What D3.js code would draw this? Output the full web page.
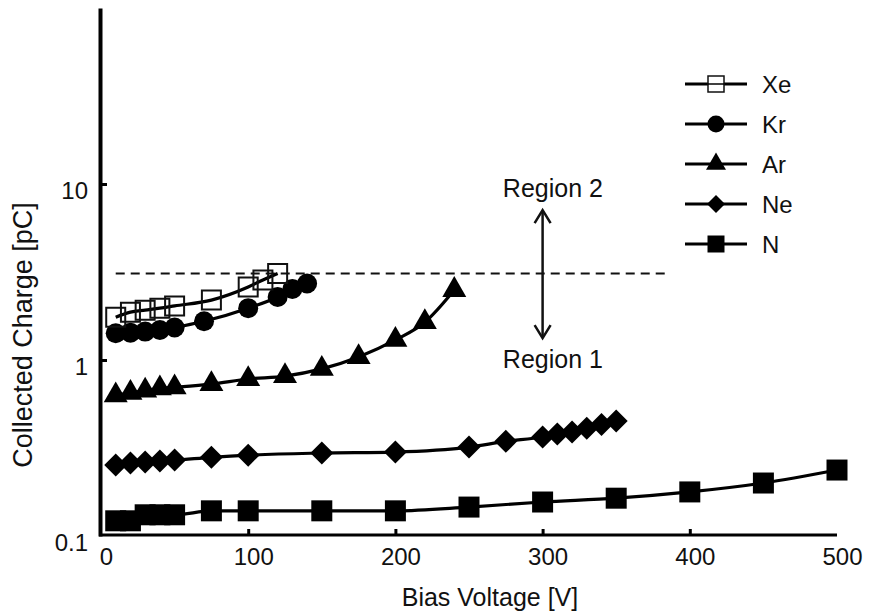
<!DOCTYPE html>
<html>
<head>
<meta charset="utf-8">
<script src="https://cdn.jsdelivr.net/npm/d3@7"></script>
<style>
  body { margin: 0; background: #fff; }
  text { font-family: "Liberation Sans", Arial, sans-serif; fill: #111; }
</style>
</head>
<body>
<div id="chart"></div>
<script>
// data (bias voltage [V], collected charge [pC])
let xeV = [10, 20, 30, 40, 50, 75, 100, 110, 120];
let xeQ = [1.75, 1.87, 1.92, 1.97, 2.03, 2.19, 2.6, 2.85, 3.1];
let krV = [10, 20, 30, 40, 50, 70, 100, 120, 130, 140];
let krQ = [1.42, 1.43, 1.45, 1.48, 1.53, 1.66, 1.97, 2.28, 2.53, 2.72];
let arV = [10, 20, 30, 40, 50, 75, 100, 125, 150, 175, 200, 220, 240];
let arQ = [0.63, 0.65, 0.67, 0.69, 0.70, 0.73, 0.78, 0.81, 0.89, 1.04, 1.30, 1.64, 2.5];
let neV = [10, 20, 30, 40, 50, 75, 100, 150, 200, 250, 275, 300, 310, 320, 330, 340, 350];
let neQ = [0.253, 0.26, 0.263, 0.267, 0.27, 0.28, 0.288, 0.296, 0.30, 0.32, 0.345, 0.365, 0.38, 0.39, 0.41, 0.43, 0.45];
let nV = [10, 20, 30, 40, 50, 75, 100, 150, 200, 250, 300, 350, 400, 450, 500];
let nQ = [0.122, 0.122, 0.132, 0.132, 0.132, 0.139, 0.139, 0.139, 0.139, 0.146, 0.156, 0.164, 0.178, 0.20, 0.237];

let gasNames = ["Xe", "Kr", "Ar", "Ne", "N"];
let xTicks = [0, 100, 200, 300, 400, 500];
let yTicks = [0.1, 1, 10];

// region boundary + arrow
let thresholdQ = 3.1;
let thresholdSpan = [10, 385];
let arrowV = 300;
let arrowQ = [7.1, 1.33];

let width = 869, height = 615;
let fontSize = 24;

let svg = d3.select("#chart")
    .append("svg")
    .attr("width", width)
    .attr("height", height);

let x = d3.scaleLinear().domain([0, 500]).range([101, 837]);
let y = d3.scaleLog().domain([0.1, 100]).range([536, 8]);

// x axis, ticks pointing inward
let xAxis = svg.append("g")
    .attr("transform", "translate(0, 535)")
    .call(d3.axisBottom(x).tickValues(xTicks).tickSizeInner(-6).tickSizeOuter(0).tickPadding(13));
xAxis.select(".domain").attr("stroke", "#000").attr("stroke-width", 3).attr("d", "M99,0H837");
xAxis.selectAll(".tick line").attr("stroke", "#000").attr("stroke-width", 3)
    .filter(d => d === 0 || d === 500).remove();
xAxis.selectAll(".tick text").attr("font-size", fontSize).attr("font-family", null).attr("dx", 5);

// y axis (log)
let yAxis = svg.append("g")
    .attr("transform", "translate(100, 0)")
    .call(d3.axisLeft(y).tickValues(yTicks).tickFormat(d3.format("")).tickSizeInner(-7).tickSizeOuter(0).tickPadding(12));
yAxis.select(".domain").attr("stroke", "#000").attr("stroke-width", 4);
yAxis.selectAll(".tick line").attr("stroke", "#000").attr("stroke-width", 3)
    .filter(d => d === 0.1).remove();
yAxis.selectAll(".tick text").attr("font-size", fontSize).attr("font-family", null).attr("dy", "0.6em");

// axis titles
svg.append("text")
    .attr("x", 490)
    .attr("y", 606)
    .attr("text-anchor", "middle")
    .attr("font-size", 25)
    .text("Bias Voltage [V]");

svg.append("text")
    .attr("transform", "translate(23, 335) rotate(-90)")
    .attr("text-anchor", "middle")
    .attr("dy", "0.35em")
    .attr("font-size", 27)
    .text("Collected Charge [pC]");

// dashed boundary between the two regions
svg.append("line")
    .attr("x1", x(thresholdSpan[0])).attr("x2", x(thresholdSpan[1]))
    .attr("y1", y(thresholdQ)).attr("y2", y(thresholdQ))
    .attr("stroke", "#111").attr("stroke-width", 2)
    .attr("stroke-dasharray", "9,6");

// double arrow
let arrowHead = (x0, y0, dir) => `M${x0 - 8},${y0 + dir * 13}L${x0},${y0}L${x0 + 8},${y0 + dir * 13}`;
svg.append("line")
    .attr("x1", x(arrowV)).attr("x2", x(arrowV))
    .attr("y1", y(arrowQ[0]) + 1).attr("y2", y(arrowQ[1]) - 1)
    .attr("stroke", "#111").attr("stroke-width", 2.5);
svg.append("path").attr("d", arrowHead(x(arrowV), y(arrowQ[0]), 1))
    .attr("fill", "none").attr("stroke", "#111").attr("stroke-width", 2.5);
svg.append("path").attr("d", arrowHead(x(arrowV), y(arrowQ[1]), -1))
    .attr("fill", "none").attr("stroke", "#111").attr("stroke-width", 2.5);

svg.append("text")
    .attr("x", x(307)).attr("y", 197)
    .attr("text-anchor", "middle").attr("font-size", 25)
    .text("Region 2");
svg.append("text")
    .attr("x", x(307)).attr("y", 368)
    .attr("text-anchor", "middle").attr("font-size", 25)
    .text("Region 1");

// series
let series = [
    { name: "N",  v: nV,  q: nQ,  shape: "square" },
    { name: "Ne", v: neV, q: neQ, shape: "diamond" },
    { name: "Ar", v: arV, q: arQ, shape: "triangle" },
    { name: "Kr", v: krV, q: krQ, shape: "circle" },
    { name: "Xe", v: xeV, q: xeQ, shape: "open" }
];

function markerPath(shape, s) {
    // s is roughly the visual width of the marker
    if (shape === "square" || shape === "open") return d3.symbol(d3.symbolSquare, s * s)();
    if (shape === "circle") return d3.symbol(d3.symbolCircle, Math.PI * s * s / 4)();
    if (shape === "triangle") return d3.symbol(d3.symbolTriangle, Math.sqrt(3) / 4 * s * s)();
    if (shape === "diamond") {
        let h = s / 2;
        return `M0,${-h}L${h},0L0,${h}L${-h},0Z`;
    }
}
let plotSize = { square: 21, open: 19, circle: 20, triangle: 24, diamond: 23 };
let legendSize = { square: 17, open: 16, circle: 17, triangle: 20, diamond: 18 };

let line = d3.line()
    .x(d => x(d[0]))
    .y(d => y(d[1]))
    .curve(d3.curveMonotoneX);

series.forEach(function(s) {
    let pts = s.v.map((v, i) => [v, s.q[i]]);
    let g = svg.append("g");
    g.append("path")
        .datum(pts)
        .attr("d", line)
        .attr("fill", "none")
        .attr("stroke", "#000")
        .attr("stroke-width", 3.2);
    g.selectAll("path.pt").data(pts).enter()
        .append("path")
        .attr("class", "pt")
        .attr("transform", d => `translate(${x(d[0])}, ${y(d[1])})`)
        .attr("d", markerPath(s.shape, plotSize[s.shape]))
        .attr("fill", s.shape === "open" ? "none" : "#000")
        .attr("stroke", "#111")
        .attr("stroke-width", s.shape === "open" ? 2 : 0);
});

// legend
let legend = svg.append("g");
gasNames.forEach(function(name, i) {
    let s = series.find(d => d.name === name);
    let ly = 84 + i * 40;
    legend.append("line")
        .attr("x1", 685).attr("x2", 747)
        .attr("y1", ly).attr("y2", ly)
        .attr("stroke", "#000").attr("stroke-width", 3.2);
    legend.append("path")
        .attr("transform", `translate(716, ${ly})`)
        .attr("d", markerPath(s.shape, legendSize[s.shape]))
        .attr("fill", s.shape === "open" ? "#fff" : "#000")
        .attr("stroke", "#111")
        .attr("stroke-width", s.shape === "open" ? 1.5 : 0);
    if (s.shape === "open") {
        legend.append("line")
            .attr("x1", 708).attr("x2", 724).attr("y1", ly).attr("y2", ly)
            .attr("stroke", "#000").attr("stroke-width", 1.5);
    }
    legend.append("text")
        .attr("x", 762).attr("y", ly)
        .attr("dy", "0.36em")
        .attr("font-size", fontSize)
        .text(name);
});
</script>
</body>
</html>
